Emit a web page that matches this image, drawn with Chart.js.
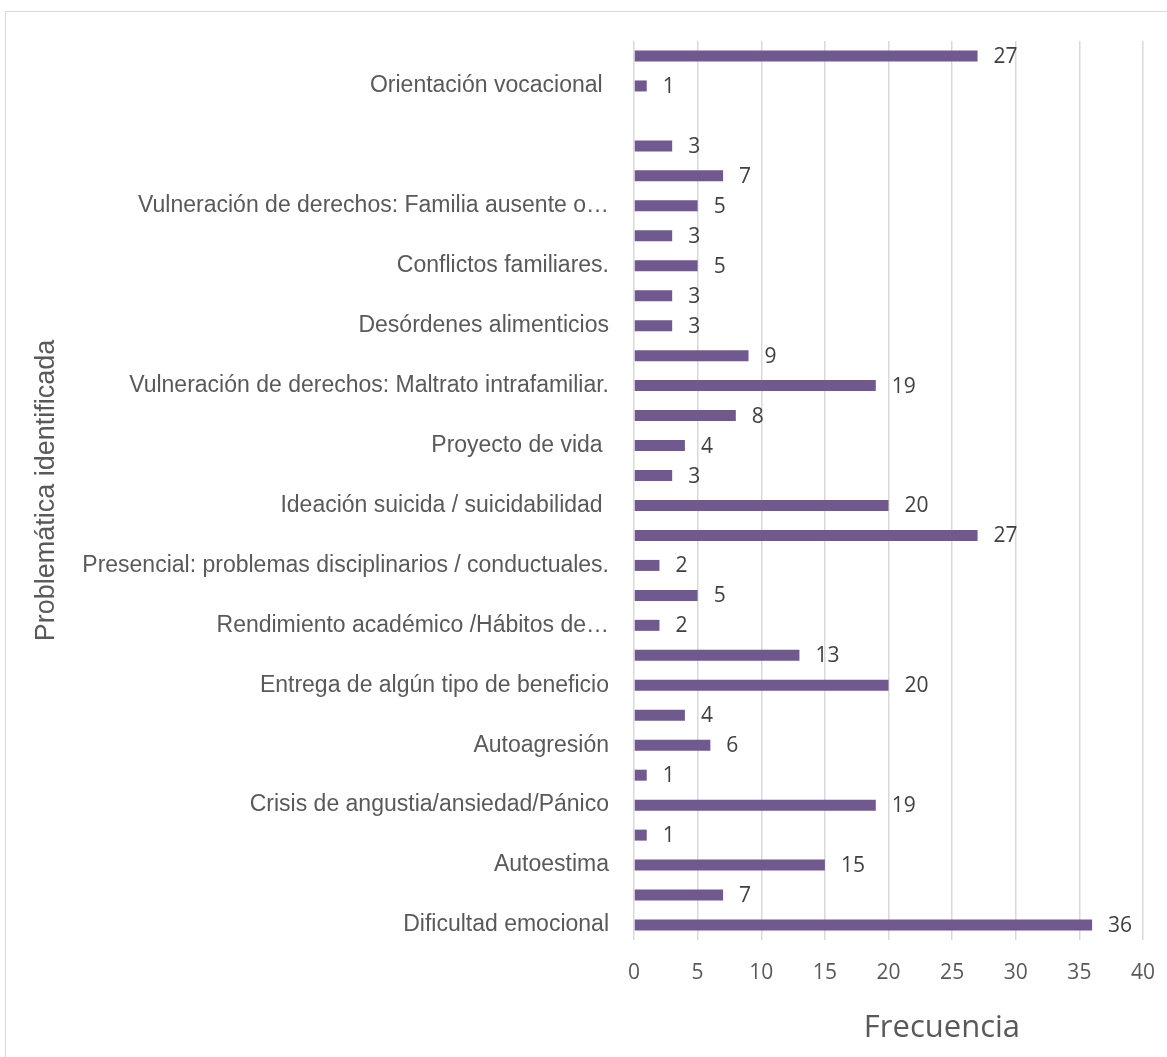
<!DOCTYPE html>
<html>
<head>
<meta charset="utf-8">
<script src="https://cdn.jsdelivr.net/npm/chart.js@4"></script>
<style>
  html, body { margin: 0; padding: 0; background: #fff; overflow: hidden; }
  #frame { position: absolute; left: 5px; top: 11px; width: 1300px; height: 1200px; border: 1.5px solid #d9d9d9; }
  #myChart { position: absolute; left: 0; top: 0; }
</style>
</head>
<body>
<div id="frame"></div>
<canvas id="myChart" width="1167" height="1057"></canvas>
<script>
  // rows from top to bottom, only every other row carries a label
  var categories = [
    '', 'Orientación vocacional ', '', '', '',
    'Vulneración de derechos: Familia ausente o…', '', 'Conflictos familiares.', '', 'Desórdenes alimenticios',
    '', 'Vulneración de derechos: Maltrato intrafamiliar.', '', 'Proyecto de vida ', '',
    'Ideación suicida / suicidabilidad ', '', 'Presencial: problemas disciplinarios / conductuales.', '', 'Rendimiento académico /Hábitos de…',
    '', 'Entrega de algún tipo de beneficio', '', 'Autoagresión', '',
    'Crisis de angustia/ansiedad/Pánico', '', 'Autoestima', '', 'Dificultad emocional'
  ]

  var frecuencia = [
    27, 1, null, 3, 7,
    5, 3, 5, 3, 3,
    9, 19, 8, 4, 3,
    20, 27, 2, 5, 2,
    13, 20, 4, 6, 1,
    19, 1, 15, 7, 36
  ]

  var xTicks = [0, 5, 10, 15, 20, 25, 30, 35, 40]

  var labelFont = "'Liberation Sans', Arial, sans-serif"
  var numberFont = "'Open Sans', sans-serif"

  // value next to the end of each bar
  var barValues = {
    id: 'barValues',
    afterDatasetsDraw: function (chart) {
      var ctx = chart.ctx
      var meta = chart.getDatasetMeta(0)
      ctx.save()
      ctx.font = '21px ' + numberFont
      ctx.fillStyle = '#404040'
      ctx.textAlign = 'left'
      ctx.textBaseline = 'middle'
      meta.data.forEach(function (bar, i) {
        var v = frecuencia[i]
        if (v === null) return
        ctx.fillText(String(v), bar.x + 16, bar.y + 1)
      })
      ctx.restore()
    }
  }

  // horizontal axis title, sits right of centre under the plot
  var xTitle = {
    id: 'xTitle',
    afterDraw: function (chart) {
      var ctx = chart.ctx
      var area = chart.chartArea
      ctx.save()
      ctx.font = '31px ' + numberFont
      ctx.fillStyle = '#595959'
      ctx.textAlign = 'center'
      ctx.textBaseline = 'middle'
      ctx.fillText('Frecuencia', area.left + area.width * 0.605, area.bottom + 88)
      ctx.restore()
    }
  }

  function drawChart() {
    var ctx = document.getElementById('myChart').getContext('2d')
    new Chart(ctx, {
      type: 'bar',
      data: {
        labels: categories,
        datasets: [{
          data: frecuencia,
          backgroundColor: '#70598f',
          barPercentage: 0.367,
          categoryPercentage: 1
        }]
      },
      options: {
        indexAxis: 'y',
        responsive: false,
        animation: false,
        layout: { padding: { top: 41, right: 24, left: 0, bottom: 0 } },
        plugins: {
          legend: { display: false },
          tooltip: { enabled: false }
        },
        scales: {
          x: {
            min: 0,
            max: 40,
            afterBuildTicks: function (scale) {
              scale.ticks = xTicks.map(function (v) { return { value: v } })
            },
            afterFit: function (scale) { scale.height = 117 },
            grid: {
              color: '#d9d9d9',
              lineWidth: 1.5,
              drawTicks: true,
              tickLength: 18,
              tickColor: 'rgba(0,0,0,0)'
            },
            border: { display: false },
            ticks: {
              padding: 2,
              color: '#595959',
              font: { family: numberFont, size: 21 }
            }
          },
          y: {
            afterFit: function (scale) { scale.width = 634 },
            grid: { display: false, drawTicks: false },
            border: { display: false },
            ticks: {
              autoSkip: false,
              padding: 25,
              color: '#595959',
              font: { family: labelFont, size: 23 }
            },
            title: {
              display: true,
              text: 'Problemática identificada',
              color: '#595959',
              font: { family: labelFont, size: 27 },
              padding: { top: 30, bottom: 0 }
            }
          }
        }
      },
      plugins: [barValues, xTitle]
    })
  }

  drawChart()
</script>
</body>
</html>
